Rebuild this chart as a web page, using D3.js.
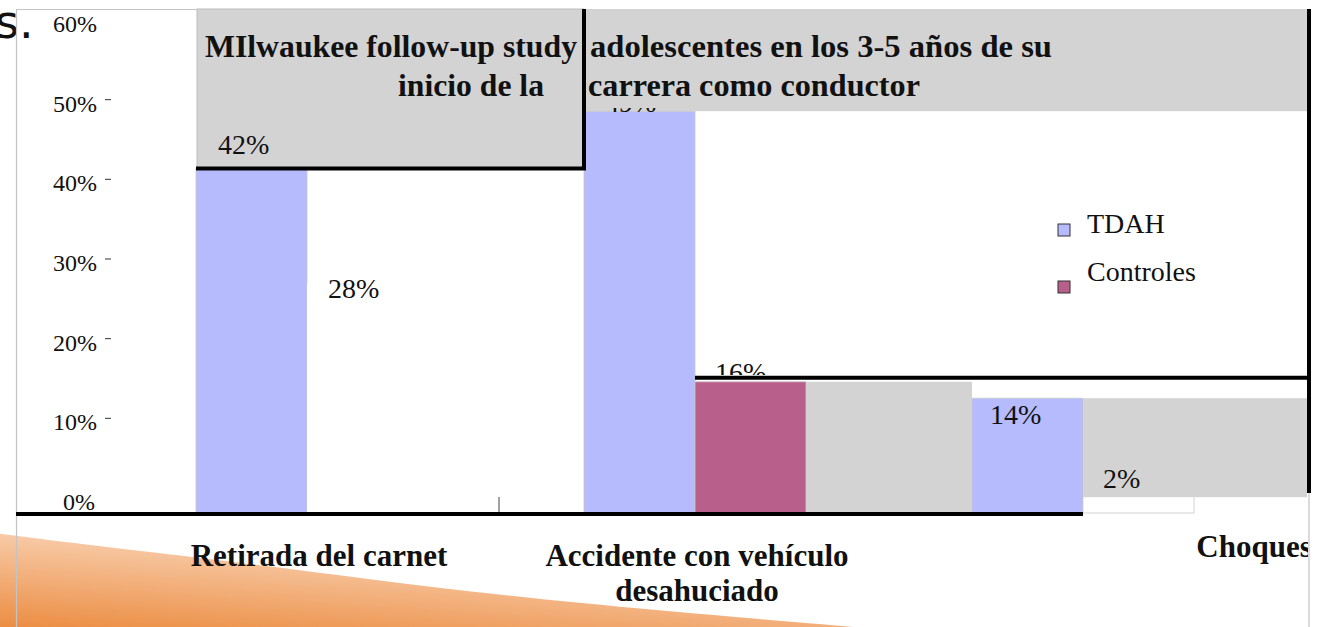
<!DOCTYPE html>
<html>
<head>
<meta charset="utf-8">
<script src="https://cdn.jsdelivr.net/npm/d3@7"></script>
<style>
  body { margin: 0; background: #fff; }
  svg { display: block; }
</style>
</head>
<body>
<div id="chart"></div>
<script>
// data
const categories = ["Retirada del carnet", "Accidente con vehículo desahuciado", "Choques"];
const categoryLines = [["Retirada del carnet"], ["Accidente con vehículo", "desahuciado"], ["Choques"]];
const series = ["TDAH", "Controles"];
const tdah = [42, 49, 14];
const controles = [28, 16, 2];
const yTicks = [0, 10, 20, 30, 40, 50, 60];
const titleLeft = ["MIlwaukee follow-up study", "inicio de la"];
const titleRight = [" adolescentes en los 3-5 años de su", "carrera como conductor"];

const width = 1324, height = 627;
const blue = "#b5bbfc", magenta = "#b95f8b", grey = "#d3d3d3";
const serif = "'Liberation Serif', 'Times New Roman', Times, serif";

const svg = d3.select("#chart").append("svg")
    .attr("width", width).attr("height", height)
    .style("font-family", serif);
const defs = svg.append("defs");

// scales
const x = d3.scaleBand().domain(categories).range([111, 1275]);
const x1 = d3.scaleBand().domain(series).range([85, 307]);
const yBar = d3.scaleLinear().domain([0, 60]).range([513, 21]);
const yTick = d3.scaleLinear().domain([0, 60]).range([510, 32]);

// orange swoosh from the slide background
const grad = defs.append("linearGradient").attr("id", "swoosh")
    .attr("x1", 0).attr("y1", 1).attr("x2", 0.5).attr("y2", 0);
grad.append("stop").attr("offset", 0).attr("stop-color", "#ea8535");
grad.append("stop").attr("offset", 1).attr("stop-color", "#fbdcc4");
const edge = [[-5, 533], [40, 539], [150, 552], [300, 570], [450, 590], [650, 610], [890, 630]];
svg.append("path")
    .attr("d", d3.line().curve(d3.curveBasis)(edge) + "L890,640L-5,640Z")
    .attr("fill", "url(#swoosh)");

// the "s." left over from the slide title
svg.append("text").attr("x", -5).attr("y", 38)
    .style("font-family", "'DejaVu Sans'").style("font-size", "46px")
    .attr("fill", "#111")
    .text("s.");

// chart frame
const frame = svg.append("g").attr("stroke", "#c4c4c4").attr("stroke-width", 1.2);
frame.append("line").attr("x1", 16.5).attr("x2", 16.5).attr("y1", 9).attr("y2", height);
frame.append("line").attr("x1", 16).attr("x2", 1310).attr("y1", 9.5).attr("y2", 9.5);
frame.append("line").attr("x1", 1309).attr("x2", 1309).attr("y1", 9).attr("y2", height);

// bars
const rows = categories.map((c, i) => ({cat: c, i: i, vals: [tdah[i], controles[i]]}));
const groups = svg.selectAll("g.grp").data(rows).join("g")
    .attr("class", "grp")
    .attr("transform", d => `translate(${x(d.cat)},0)`);
groups.selectAll("rect").data(d => series.map((s, k) => ({key: s, value: d.vals[k], i: d.i})))
  .join("rect")
    .attr("x", d => x1(d.key))
    .attr("width", x1.bandwidth())
    .attr("y", d => yBar(d.value))
    .attr("height", d => yBar(0) - yBar(d.value))
    .attr("fill", d => d.key === "TDAH" ? blue : (d.i === 1 ? magenta : "#fff"))
    .attr("stroke", d => (d.key === "Controles" && d.i === 0) ? "none" : "#c8c8c8")
    .attr("stroke-width", 0.8);

// clip regions where the slide hides labels
defs.append("clipPath").attr("id", "clipTop").append("rect")
    .attr("x", 0).attr("y", 108).attr("width", width).attr("height", height);
defs.append("clipPath").attr("id", "clipLine").append("rect")
    .attr("x", 0).attr("y", 0).attr("width", width).attr("height", 375);

// grey overlays
const over = svg.append("g");
const x2 = c => x(categories[c]);
over.append("rect").attr("x", x2(0) + x1("TDAH") + 1).attr("y", 9)
    .attr("width", x2(1) - x2(0) - 1).attr("height", yBar(42) - 9)
    .attr("fill", grey).attr("stroke", "#bdbdbd").attr("stroke-width", 1);
over.append("rect").attr("x", x2(1) + x1("TDAH")).attr("y", 9)
    .attr("width", 1309 - x2(1) - x1("TDAH")).attr("height", yBar(49) - 9)
    .attr("fill", grey);
over.append("rect").attr("x", x2(1) + x1("Controles") + x1.bandwidth()).attr("y", yBar(16))
    .attr("width", x2(2) - x2(1) - x1("Controles") - x1.bandwidth() + x1("TDAH")).attr("height", yBar(0) - yBar(16))
    .attr("fill", grey);
over.append("rect").attr("x", x2(2) + x1("Controles")).attr("y", yBar(14))
    .attr("width", 1307 - x2(2) - x1("Controles")).attr("height", yBar(2) - yBar(14) + 0.6)
    .attr("fill", grey);

// category separator tick
svg.append("line").attr("x1", x2(1)).attr("x2", x2(1)).attr("y1", 497).attr("y2", 513)
    .attr("stroke", "#444").attr("stroke-width", 1);

// value labels
const labelShift = [[[22, -15], [21, 15]], [[21, 1], [20, 0]], [[18, 26], [20, -9]]];
const labels = [];
rows.forEach(r => series.forEach((s, k) => labels.push({key: s, value: r.vals[k], i: r.i, k: k, cat: r.cat})));
svg.append("g").style("font-size", "28px").attr("fill", "#111")
  .selectAll("text").data(labels).join("text")
    .attr("x", d => x(d.cat) + x1(d.key) + labelShift[d.i][d.k][0])
    .attr("y", d => yBar(d.value) + labelShift[d.i][d.k][1])
    .attr("clip-path", d => d.i === 1 ? (d.k === 0 ? "url(#clipTop)" : "url(#clipLine)") : null)
    .text(d => d.value + "%");

// black rules
const rules = svg.append("g").attr("stroke", "#000").attr("stroke-width", 4).attr("fill", "none");
rules.append("path").attr("d", `M${x2(0) + x1("TDAH")},${yBar(42)}H${x2(1) + x1("TDAH")}V9`);
rules.append("line").attr("x1", 1309).attr("x2", 1309).attr("y1", 9).attr("y2", 493);
rules.append("line").attr("x1", x2(1) + x1("Controles")).attr("x2", 1311)
    .attr("y1", yBar(16) - 4).attr("y2", yBar(16) - 4);
rules.append("line").attr("x1", 16).attr("x2", x2(2) + x1("Controles"))
    .attr("y1", yBar(0) + 1).attr("y2", yBar(0) + 1);

// y axis labels
const axis = svg.append("g").style("font-size", "24px").attr("fill", "#111");
axis.selectAll("text").data(yTicks).join("text")
    .attr("x", d => d === 0 ? 95 : 97)
    .attr("y", d => yTick(d))
    .attr("text-anchor", "end")
    .text(d => d + "%");
axis.selectAll("line").data(yTicks.filter(d => d > 0 && d < 60)).join("line")
    .attr("x1", 105).attr("x2", 111)
    .attr("y1", d => yTick(d) - 12).attr("y2", d => yTick(d) - 12)
    .attr("stroke", "#333").attr("stroke-width", 1);

// titles inside the grey boxes
const titles = svg.append("g").style("font-size", "31px").style("font-weight", "bold").attr("fill", "#111");
const titleRows = [
  {t: titleLeft[0], x: 205, y: 57, w: 372},
  {t: titleLeft[1], x: 398, y: 96, w: 146},
  {t: titleRight[0], x: 590, y: 57, w: 462},
  {t: titleRight[1], x: 588, y: 96, w: 332}
];
titles.selectAll("text").data(titleRows).join("text")
    .attr("x", d => d.x).attr("y", d => d.y)
    .attr("textLength", d => d.w).attr("lengthAdjust", "spacingAndGlyphs")
    .text(d => d.t);

// legend
const legend = svg.append("g").style("font-size", "28px").attr("fill", "#111");
const legendY = [224, 281], legendTextY = [233, 281];
series.forEach((s, k) => {
  legend.append("rect").attr("x", 1058).attr("y", legendY[k]).attr("width", 12).attr("height", 12)
      .attr("fill", k === 0 ? blue : magenta).attr("stroke", "#333").attr("stroke-width", 1);
  legend.append("text").attr("x", 1087).attr("y", legendTextY[k]).text(s);
});

// category labels
defs.append("clipPath").attr("id", "clipRight").append("rect")
    .attr("x", 0).attr("y", 0).attr("width", 1308).attr("height", height);
const catShift = [14, 4, 173];
const catY = [566, 566, 557];
const cats = svg.append("g").style("font-size", "31px").style("font-weight", "bold")
    .attr("fill", "#111").attr("clip-path", "url(#clipRight)");
categoryLines.forEach((lines, i) => {
  lines.forEach((ln, j) => {
    cats.append("text")
        .attr("x", x(categories[i]) + x.bandwidth() / 2 + catShift[i])
        .attr("y", catY[i] + j * 35)
        .attr("text-anchor", "middle")
        .text(ln);
  });
});
</script>
</body>
</html>
